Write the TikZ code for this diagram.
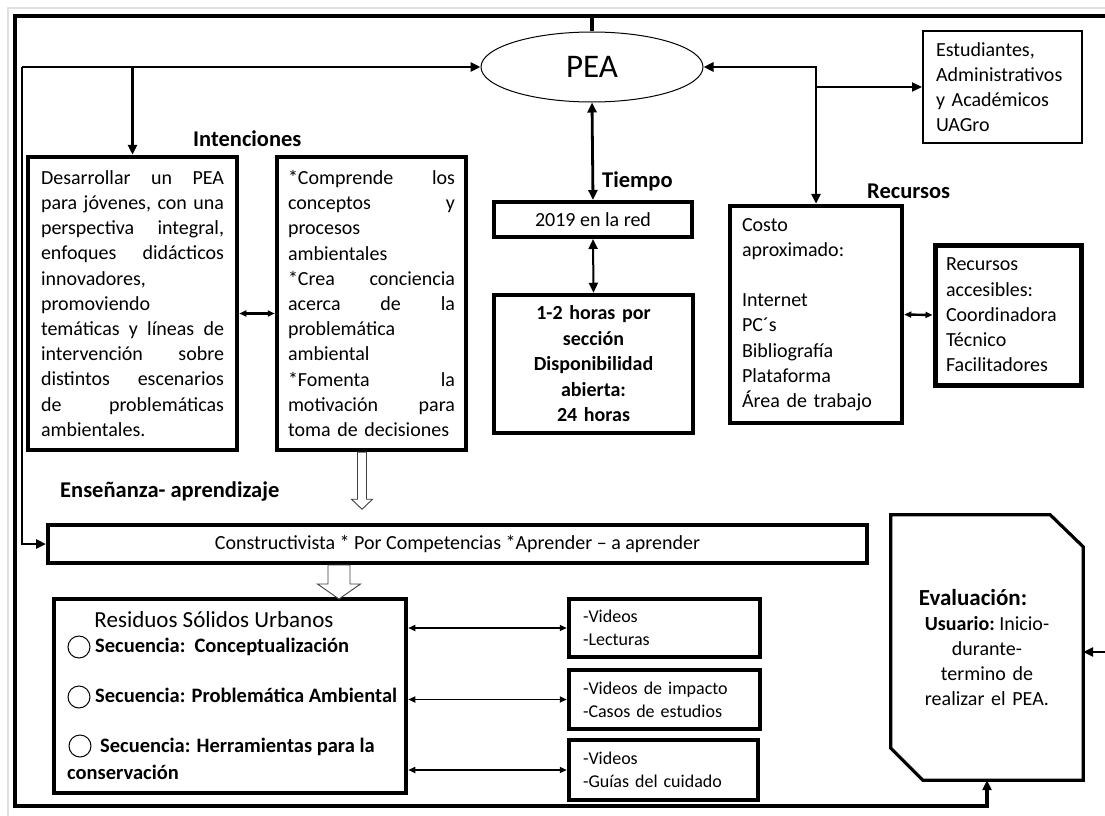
\documentclass[tikz,border=0pt]{standalone}
\usepackage{fontspec}
\setmainfont{Carlito}
\usetikzlibrary{arrows.meta,calc,shapes.geometric}

\begin{document}
\begin{tikzpicture}[x=1pt,y=-1pt,
  every node/.style={font=\fontsize{20}{25.2}\selectfont, inner sep=0pt},
  >={Triangle[length=10pt,width=9pt]},
  caja/.style={draw, line width=4.5pt, align=left},
  titulo/.style={font=\fontsize{22.5}{26}\selectfont\bfseries, anchor=west, text height=14pt, text depth=4pt},
  sec/.style={font=\fontsize{20.5}{27}\selectfont\bfseries, anchor=west, text height=14pt, text depth=4pt},
  conector/.style={line width=2.8pt},
  fino/.style={line width=1.6pt, >={Triangle[length=7pt,width=6pt]}},
  marco/.style={line width=3.2pt},
  hueco/.style={draw=black!75, fill=white, line width=0.9pt}]

\useasboundingbox (0,0) rectangle (1105,816);
\draw[black!12, line width=1.5pt] (8,816) -- (8,8) -- (1105,8);

% PEA y destinatarios
\node[ellipse, draw, line width=1pt, minimum width=222pt, minimum height=70pt, font=\fontsize{33}{36}\selectfont] (pea) at (592,67) {PEA};
\node[draw, line width=2pt, minimum width=159pt, minimum height=112pt, text width=133pt, align=left] (est) at (1002.5,87) {Estudiantes,\\ Administrativos\\ y Académicos\\ UAGro};

% Intenciones
\node[titulo] (intenc) at (193,141) {Intenciones};
\node[caja, minimum width=209pt, minimum height=293pt, text width=183pt] (des) at (132.5,303.5) {Desarrollar\hfill un\hfill PEA\\ para\hfill jóvenes,\hfill con\hfill una\\ perspectiva\hfill integral,\\ enfoques\hfill didácticos\\ innovadores,\\ promoviendo\\ temáticas\hfill y\hfill líneas\hfill de\\ intervención\hfill sobre\\ distintos\hfill escenarios\\ de\hfill problemáticas\\ ambientales.};
\node[caja, minimum width=189pt, minimum height=293pt, text width=167pt] (comp) at (371.5,303.5) {*Comprende\hfill los\\ conceptos\hfill y\\ procesos\\ ambientales\\ {*}Crea\hfill conciencia\\ acerca\hfill de\hfill la\\ problemática\\ ambiental\\ {*}Fomenta\hfill la\\ motivación\hfill para\\ toma de decisiones};

% Tiempo
\node[titulo] (tiempo) at (602,182) {Tiempo};
\node[caja, line width=4pt, minimum width=198pt, minimum height=35pt] (red) at (593,219.5) {2019 en la red};
\node[caja, minimum width=199pt, minimum height=138pt, text width=180pt, align=center, font=\fontsize{20}{25.5}\selectfont\bfseries] (horas) at (593.5,364) {1-2 horas por\\ sección\\ Disponibilidad\\ abierta:\\ 24 horas};

% Recursos
\node[titulo] (recursos) at (867,193) {Recursos};
\node[caja, minimum width=172pt, minimum height=217pt, text width=148pt] (costo) at (816,314.5) {Costo\\ aproximado:\\ \mbox{}\\ Internet\\ PC´s\\ Bibliografía\\ Plataforma\\ Área de trabajo};
\node[caja, line width=5pt, minimum width=146pt, minimum height=140pt, text width=124pt] (recacc) at (1008,315) {Recursos\\ accesibles:\\ Coordinadora\\ Técnico\\ Facilitadores};

% Ensenanza-aprendizaje
\node[titulo] (ensen) at (60,492) {Enseñanza- aprendizaje};
\node[caja, line width=4pt, minimum width=819pt, minimum height=38pt, align=center] (constr) at (457.5,544) {Constructivista * Por Competencias *Aprender – a aprender};

% Residuos solidos urbanos
\node[caja, minimum width=352pt, minimum height=194pt] (res) at (230,696) {};
\node[font=\fontsize{23}{27}\selectfont, text height=15pt, text depth=5pt] (rtit) at (214,622) {Residuos Sólidos Urbanos};
\node[circle, draw, line width=1pt, minimum size=22pt] (c1) at (79,647) {};
\node[sec] (s1) at (95,647) {Secuencia:\hspace{9pt}Conceptualización};
\node[circle, draw, line width=1pt, minimum size=22pt] (c2) at (79,697) {};
\node[sec] (s2) at (95,697) {Secuencia: Problemática Ambiental};
\node[circle, draw, line width=1pt, minimum size=22pt] (c3) at (80,746) {};
\node[sec] (s3) at (100,747) {Secuencia: Herramientas para la};
\node[sec] (s3b) at (67,774) {conservación};

\node[caja, minimum width=191pt, minimum height=58pt, text width=163pt, font=\fontsize{18}{23}\selectfont] (vid1) at (664.5,628) {-Videos\\ -Lecturas};
\node[caja, minimum width=191pt, minimum height=59pt, text width=163pt, font=\fontsize{18}{23}\selectfont] (vid2) at (664.5,699.5) {-Videos de impacto\\ -Casos de estudios};
\node[caja, minimum width=189pt, minimum height=60pt, text width=161pt, font=\fontsize{18}{23}\selectfont] (vid3) at (663.5,770) {-Videos\\ -Guías del cuidado};

% Evaluacion
\node[minimum width=192pt, minimum height=265pt, text width=160pt, align=center] (eval) at (987,647.5) {\hspace*{-28pt}{\fontsize{23}{27}\selectfont\bfseries Evaluación:}\\ \textbf{Usuario:}\hspace{4.5pt}Inicio-\\ durante-\\ termino de\\ realizar el PEA.};
\draw[line width=3.2pt, line join=miter] ($(eval.north east)+(-33,0)$) -- ($(eval.north east)+(0,32)$) -- (eval.south east) -- ($(eval.south west)+(32,0)$) -- ($(eval.south west)+(0,-32)$) -- (eval.north west) -- cycle;

% marco exterior
\coordinate (arriba) at (1105,16);
\coordinate (der) at (1106,652);
\coordinate (esq) at (22,67);
\draw[marco,->] (arriba) -- (15,16) -- (15,806) -| (eval.south);
\draw[marco] (pea.north) -- (pea.north |- arriba);
\draw[conector,->] (der) -- (der -| eval.east);

% conectores
\draw[conector,->] (esq) -- (pea.west);
\draw[conector,->] (esq) |- (constr.west);
\draw[conector,->] (des.north |- esq) -- (des.north);
\draw[conector,<->] (pea.east) -| (costo.north);
\draw[conector,->,line width=2pt] (costo.north |- est.west) -- (est.west);
\draw[conector,<->] (pea.south) -- (red.north);
\draw[conector,<->,line width=2pt] (red.south) -- (horas.north);
\draw[fino,<->,line width=2.4pt] ($(des.east)+(0,10)$) -- ($(comp.west)+(0,10)$);
\draw[fino,<->,line width=2.4pt] (costo.east) -- (recacc.west);
\draw[fino,<->] (res.east |- vid1.west) -- (vid1.west);
\draw[fino,<->] (res.east |- vid2.west) -- (vid2.west);
\draw[fino,<->] (res.east |- vid3.west) -- (vid3.west);

% flechas huecas
\draw[hueco] ($(comp.south)+(-14,0)$) -- ++(0,47) -- ++(-6,0) -- ++(10.5,10) -- ++(10.5,-10) -- ++(-6,0) -- ++(0,-47) -- cycle;
\draw[hueco] ($(constr.south)+(-129.5,0)$) -- ++(0,19) -- ++(-10.5,0) -- ++(21.5,15) -- ++(21.5,-15) -- ++(-10.5,0) -- ++(0,-19) -- cycle;

\end{tikzpicture}
\end{document}
